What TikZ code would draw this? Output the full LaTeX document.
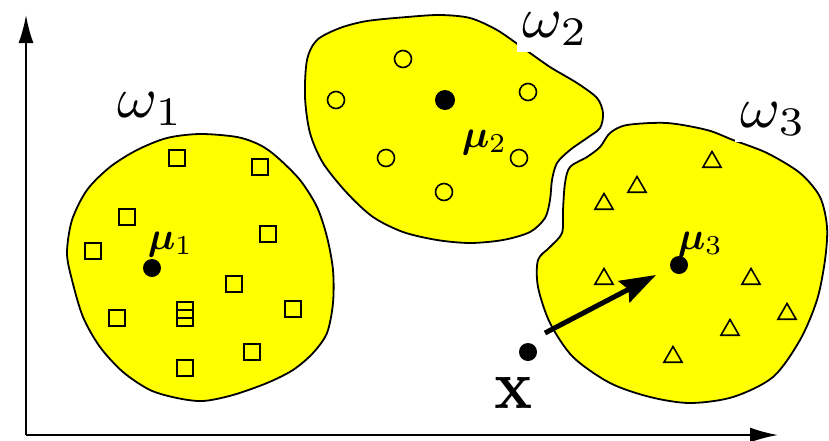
\documentclass[tikz,border=0pt]{standalone}
\usepackage{bm}
\usetikzlibrary{arrows.meta,shapes.geometric}
\definecolor{blobyellow}{RGB}{255,255,0}
\tikzset{
  blob/.style={fill=blobyellow, draw=black, line width=1.8pt},
  sqmark/.style={draw, rectangle, minimum size=16pt, inner sep=0pt, line width=1.6pt},
  circmark/.style={draw, circle, minimum size=17pt, inner sep=0pt, line width=1.6pt},
  trimark/.style={draw, regular polygon, regular polygon sides=3, minimum size=21pt, inner sep=0pt, line width=1.6pt},
  meandot/.style={fill=black, circle, minimum size=18pt, inner sep=0pt},
  classlab/.style={fill=white, inner sep=1pt, xscale=6.1, yscale=5.8, anchor=base west},
  meanlab/.style={inner sep=0pt, scale=3.9, anchor=base west},
  axisline/.style={line width=2pt, -{Latex[length=28pt,width=15pt]}},
  bigarrow/.style={line width=5pt, -{Stealth[length=36pt,width=24pt,inset=5pt]}},
}
\begin{document}
\begin{tikzpicture}[x=1pt,y=-1pt]
\useasboundingbox (0,0) rectangle (829,440);

% axes
\coordinate (origin) at (26,435);
\coordinate (ytip) at (26,15);
\coordinate (xtip) at (778,435);
\draw[axisline] (origin) -- (ytip);
\draw[axisline] (origin) -- (xtip);

% class regions
\draw[blob] plot[smooth cycle] coordinates {
  (200,134) (237,137) (260,145) (277,157) (300,180) (317,207) (327,237)
  (333,270) (333,303) (327,333) (313,353) (293,370) (267,383) (233,395)
  (203,401) (177,398) (150,390) (123,372) (100,347) (83,317) (72,280)
  (67,253) (72,220) (87,190) (110,167) (137,150) (167,138)};
\draw[blob] plot[smooth cycle] coordinates {
  (307,60) (317,40) (340,28) (367,21) (407,17) (440,15) (470,18) (497,30)
  (523,48) (550,67) (577,83) (597,98) (603,113) (600,128) (587,138)
  (570,150) (557,163) (552,180) (550,200) (545,218) (530,232) (503,240)
  (470,243) (437,240) (403,232) (373,217) (347,193) (323,163) (310,133)
  (305,97)};
\draw[blob] plot[smooth cycle] coordinates {
  (627,125) (667,123) (707,130) (733,140) (767,153) (800,173) (820,197)
  (827,227) (825,260) (817,300) (800,340) (773,377) (733,397) (690,403)
  (650,397) (610,383) (573,357) (550,323) (538,287) (538,260) (550,247)
  (562,233) (563,210) (565,183) (570,167) (587,157) (600,147) (610,133)};

% class names
\node[classlab] (w1) at (110.5,117) {$\omega_1$};
\node[classlab] (w2) at (515.5,37) {$\omega_2$};
\node[classlab] (w3) at (733.5,127) {$\omega_3$};

% samples of class 1
\foreach \p [count=\i] in {(177,158),(260,167),(127,217),(268,234),(93,251),
    (234,284),(293,309),(117,318),(185,310),(185,318),(252,352),(185,368)}
  \node[sqmark] (s\i) at \p {};

% samples of class 2
\foreach \p [count=\i] in {(403,59),(336,100),(528,92),(386,158),(519,158),(444,192)}
  \node[circmark] (c\i) at \p {};

% samples of class 3
\foreach \p [count=\i] in {(712,162),(637,187),(604,204),(604,279),(751,279),
    (787,314),(730,330),(673,357)}
  \node[trimark] (t\i) at \p {};

% class means
\node[meandot] (mu1) at (152,268) {};
\node[meandot, minimum size=20pt] (mu2) at (445,100) {};
\node[meandot] (mu3) at (679,265) {};
\node[meanlab] (mu1lab) at (147,249) {$\bm{\mu}_1$};
\node[meanlab] (mu2lab) at (461,147) {$\bm{\mu}_2$};
\node[meanlab] (mu3lab) at (677,249) {$\bm{\mu}_3$};

% sample to be classified
\node[meandot] (xdot) at (528,352) {};
\node[inner sep=0pt, xscale=6.3, yscale=7, anchor=base] (xlab) at (514,408) {$\mathbf{x}$};
\coordinate (atail) at (545,333);
\coordinate (ahead) at (656,275);
\draw[bigarrow] (atail) -- (ahead);
\end{tikzpicture}
\end{document}
